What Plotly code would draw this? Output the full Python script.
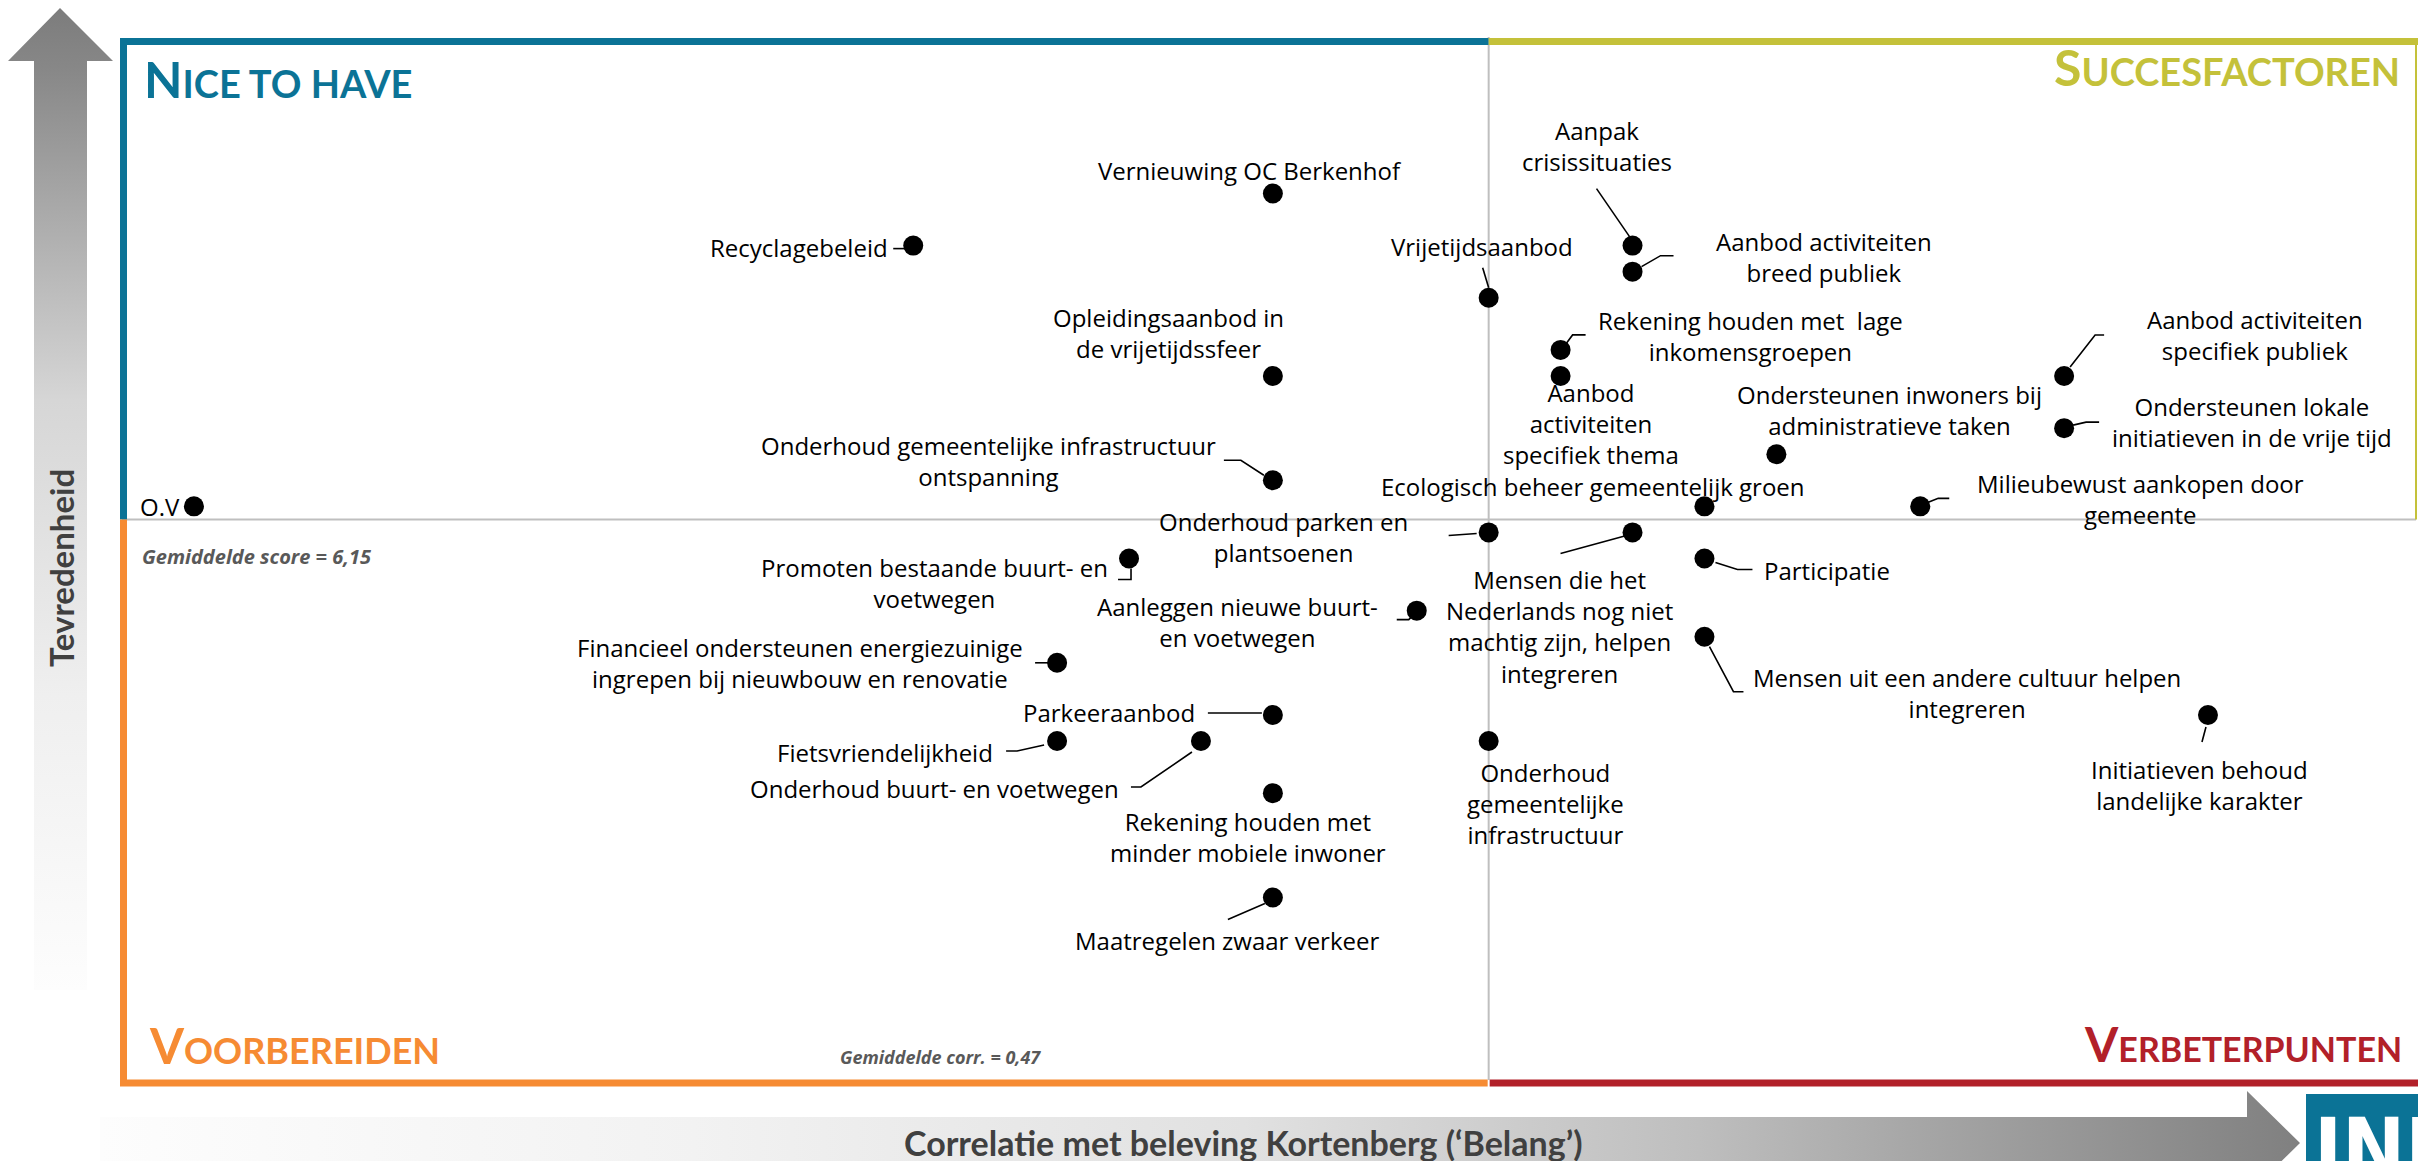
import plotly.graph_objects as go

# ------------------------------------------------------------------ data
items = [
    "O.V",
    "Recyclagebeleid",
    "Vernieuwing OC Berkenhof",
    "Opleidingsaanbod in<br>de vrijetijdssfeer",
    "Onderhoud gemeentelijke infrastructuur<br>ontspanning",
    "Vrijetijdsaanbod",
    "Aanpak<br>crisissituaties",
    "Aanbod activiteiten<br>breed publiek",
    "Rekening houden met\u00a0 lage<br>inkomensgroepen",
    "Aanbod<br>activiteiten<br>specifiek thema",
    "Ondersteunen inwoners bij<br>administratieve taken",
    "Aanbod activiteiten<br>specifiek publiek",
    "Ondersteunen lokale<br>initiatieven in de vrije tijd",
    "Ecologisch beheer gemeentelijk groen",
    "Milieubewust aankopen door<br>gemeente",
    "Onderhoud parken en<br>plantsoenen",
    "Mensen die het<br>Nederlands nog niet<br>machtig zijn, helpen<br>integreren",
    "Participatie",
    "Mensen uit een andere cultuur helpen<br>integreren",
    "Initiatieven behoud<br>landelijke karakter",
    "Onderhoud<br>gemeentelijke<br>infrastructuur",
    "Promoten bestaande buurt- en<br>voetwegen",
    "Aanleggen nieuwe buurt-<br>en voetwegen",
    "Financieel ondersteunen energiezuinige<br>ingrepen bij nieuwbouw en renovatie",
    "Parkeeraanbod",
    "Fietsvriendelijkheid",
    "Onderhoud buurt- en voetwegen",
    "Rekening houden met<br>minder mobiele inwoner",
    "Maatregelen zwaar verkeer",
]
corr = [0.29, 0.39, 0.44, 0.44, 0.44, 0.47, 0.49, 0.49, 0.48, 0.48,
        0.51, 0.55, 0.55, 0.50, 0.53, 0.47, 0.49, 0.50, 0.50, 0.57,
        0.47, 0.42, 0.46, 0.41, 0.44, 0.41, 0.43, 0.44, 0.44]
score = [6.2, 7.2, 7.4, 6.7, 6.3, 7.0, 7.2, 7.1, 6.8, 6.7,
         6.4, 6.7, 6.5, 6.2, 6.2, 6.1, 6.1, 6.0, 5.7, 5.4,
         5.3, 6.0, 5.8, 5.6, 5.4, 5.3, 5.3, 5.1, 4.7]
mean_corr = 0.47
mean_score = 6.15
quadrant_names = ["NICE TO HAVE", "SUCCESFACTOREN", "VOORBEREIDEN", "VERBETERPUNTEN"]
x_title = "Correlatie met beleving Kortenberg (\u2018Belang\u2019)"
y_title = "Tevredenheid"
mean_score_text = "Gemiddelde score = 6,15"
mean_corr_text = "Gemiddelde corr. = 0,47"
logo_text = "IND"

# ------------------------------------------------------------------ label layout (pixels, y up)
label_shift = [(-12, 0), (-23, -2), (-23, 23), (-104, 43), (-284, 19), (-7, 51),
               (-36, 100), (191, 15), (190, 14), (30, -48), (113, 44), (191, 41),
               (188, 6), (-111, 20), (220, 7), (-205, -5), (-73, -94), (58, -12),
               (263, -56), (-8, -70), (57, -62), (-195, -24), (-179, -11),
               (-257, 0), (-76, 2), (-62, -11), (-80, -47), (-25, -44), (-46, -43)]
label_anchor = ["right", "right", "center", "center", "center", "center",
                "center", "center", "center", "center", "center", "center",
                "center", "center", "center", "center", "center", "left",
                "center", "center", "center", "center", "center",
                "center", "right", "right", "right", "center", "center"]
leaders = [None, [(-20, -3), (-8, -3)], None, None, [(-49, 20), (-32, 20), (-9, 5)],
           [(-6, 30), (0, 10)], [(-36, 57), (-3, 9)], [(9, 5), (28, 16), (41, 16)],
           [(6, 7), (12, 15), (25, 15)], None, None, [(6, 9), (31, 41), (40, 41)],
           [(9, 3), (22, 6), (35, 6)], None, [(8, 4), (18, 8), (29, 8)],
           [(-40, -3), (-12, -1)], [(-72, -21), (-6, -3)],
           [(11, -4), (33, -11), (48, -11)], [(5, -10), (29, -55), (39, -55)],
           [(-2, -12), (-6, -27)], None, [(2, -10), (2, -21), (-11, -21)],
           [(-20, -9), (-8, -9), (-3, -4)], [(-22, 0), (-7, 0)], [(-65, 2), (-11, 2)],
           [(-51, -10), (-40, -10), (-13, -4)], [(-70, -46), (-60, -46), (-9, -11)],
           None, [(-45, -22), (-8, -6)]]

W, H = 2418, 1161
PL, PR, PT, PB = 122, 2416, 37, 1080       # plot area in pixels
PX_PER_CORR = 7193
X_MIN = 0.28
Y_RANGE = [4, 8]

BLUE = "#0B7396"
OLIVE = "#C4C13A"
ORANGE = "#F68B33"
RED = "#B22029"
GRID = "#BFBFBF"
LABEL_FONT = dict(family="Open Sans", size=24, color="black")
TITLE_FONT = "Lato"

fig = go.Figure()

# decorative arrows on a full-page pixel axis
fig.add_trace(go.Scatter(
    x=[60, 113, 87, 87, 34, 34, 8, 60], y=[8, 61, 61, 990, 990, 61, 61, 8],
    xaxis="x2", yaxis="y2", mode="lines", fill="toself", line=dict(width=0),
    fillgradient=dict(type="vertical", start=8, stop=990,
                      colorscale=[[0, "#7c7c7c"], [0.06, "#878787"], [0.2, "#a8a8a8"],
                                  [0.4, "#d6d6d6"], [0.7, "#efefef"], [1, "#fdfdfd"]]),
    hoverinfo="skip", showlegend=False))
fig.add_trace(go.Scatter(
    x=[100, 2247, 2247, 2300, 2247, 2247, 100, 100],
    y=[1117, 1117, 1091, 1143, 1195, 1169, 1169, 1117],
    xaxis="x2", yaxis="y2", mode="lines", fill="toself", line=dict(width=0),
    fillgradient=dict(type="horizontal", start=100, stop=2300,
                      colorscale=[[0, "#fdfdfd"], [0.27, "#f2f2f2"], [0.52, "#e1e1e1"],
                                  [0.727, "#bebebe"], [0.818, "#a8a8a8"], [0.977, "#858585"],
                                  [1, "#808080"]]),
    hoverinfo="skip", showlegend=False))

# data points
fig.add_trace(go.Scatter(
    x=corr, y=score, mode="markers",
    marker=dict(size=20, color="black"),
    hoverinfo="skip", showlegend=False))

shapes = []
# mean lines
shapes.append(dict(type="line", xref="x", yref="y domain", x0=mean_corr, x1=mean_corr,
                   y0=0, y1=1, line=dict(color=GRID, width=2), layer="below"))
shapes.append(dict(type="line", xref="x domain", yref="y", x0=0, x1=1,
                   y0=mean_score, y1=mean_score, line=dict(color=GRID, width=2), layer="below"))
# quadrant frame (page pixels)
xm = PL + (mean_corr - X_MIN) * PX_PER_CORR
ym = PB - (mean_score - Y_RANGE[0]) / (Y_RANGE[1] - Y_RANGE[0]) * (PB - PT)
frame = [
    (f"M 123.5,{ym} L 123.5,41.5 L {xm},41.5", BLUE, 7),
    (f"M {xm},41.5 L 2418,41.5", OLIVE, 7),
    (f"M 2416,41.5 L 2416,{ym}", OLIVE, 2),
    (f"M 123.5,{ym} L 123.5,1083 L {xm - 1},1083", ORANGE, 7),
    (f"M {xm + 1},1083 L 2418,1083", RED, 7),
]
for p, c, w in frame:
    shapes.append(dict(type="path", xref="x2", yref="y2", path=p,
                       line=dict(color=c, width=w)))
# logo box
shapes.append(dict(type="rect", xref="x2", yref="y2", x0=2306, x1=2420, y0=1094, y1=1165,
                   fillcolor=BLUE, line=dict(width=0)))
# leader lines
for i, pts in enumerate(leaders):
    if not pts:
        continue
    path = "M " + " L ".join(f"{a},{b}" for a, b in pts)
    shapes.append(dict(type="path", xref="x", yref="y", xsizemode="pixel", ysizemode="pixel",
                       xanchor=corr[i], yanchor=score[i], path=path,
                       line=dict(color="black", width=1.6), layer="below"))

annotations = []
for i, txt in enumerate(items):
    dx, dy = label_shift[i]
    annotations.append(dict(x=corr[i], y=score[i], xref="x", yref="y", text=txt,
                            showarrow=False, xshift=dx, yshift=dy,
                            xanchor=label_anchor[i], yanchor="middle", align="center",
                            font=LABEL_FONT))


def qname(name, size):
    return f"<span style='font-size:{size}px'>{name[0]}</span>{name[1:]}"


qpos = [(142, 79, "left", BLUE, 38, 50), (2402, 67, "right", OLIVE, 38, 50),
        (147, 1045, "left", ORANGE, 36, 49), (2404, 1043, "right", RED, 34, 48)]
for name, (qx, qy, qa, qc, fs, bs) in zip(quadrant_names, qpos):
    annotations.append(dict(x=qx, y=qy, xref="x2", yref="y2", text=qname(name, bs),
                            showarrow=False, xanchor=qa, yanchor="middle",
                            font=dict(family=TITLE_FONT, size=fs, color=qc, weight="bold")))

annotations.append(dict(x=140, y=556, xref="x2", yref="y2", text=f"<b><i>{mean_score_text}</i></b>",
                        showarrow=False, xanchor="left", yanchor="middle",
                        font=dict(family="Open Sans", size=20, color="#595959")))
annotations.append(dict(x=940, y=1057, xref="x2", yref="y2", text=f"<b><i>{mean_corr_text}</i></b>",
                        showarrow=False, xanchor="center", yanchor="middle",
                        font=dict(family="Open Sans", size=18, color="#595959")))
annotations.append(dict(x=1243, y=1142, xref="x2", yref="y2", text=f"<b>{x_title}</b>",
                        showarrow=False, xanchor="center", yanchor="middle",
                        font=dict(family=TITLE_FONT, size=34, color="#404040")))
annotations.append(dict(x=61, y=568, xref="x2", yref="y2", text=f"<b>{y_title}</b>",
                        showarrow=False, xanchor="center", yanchor="middle", textangle=-90,
                        font=dict(family=TITLE_FONT, size=33, color="#404040")))
annotations.append(dict(x=2312, y=1098, xref="x2", yref="y2", text=f"<b>{logo_text}</b>",
                        showarrow=False, xanchor="left", yanchor="top",
                        font=dict(family="DejaVu Sans Condensed", size=84, color="white")))

fig.update_layout(
    width=W, height=H,
    margin=dict(l=0, r=0, t=0, b=0, pad=0),
    paper_bgcolor="white", plot_bgcolor="rgba(0,0,0,0)",
    xaxis=dict(domain=[PL / W, PR / W], range=[X_MIN, X_MIN + (PR - PL) / PX_PER_CORR],
               visible=False, fixedrange=True),
    yaxis=dict(domain=[(H - PB) / H, (H - PT) / H], range=Y_RANGE,
               visible=False, fixedrange=True),
    xaxis2=dict(domain=[0, 1], range=[0, W], anchor="y2", visible=False, fixedrange=True),
    yaxis2=dict(domain=[0, 1], range=[H, 0], anchor="x2", visible=False, fixedrange=True),
    shapes=shapes,
    annotations=annotations,
    showlegend=False,
    hovermode=False,
)

fig.write_html("out.html", config={"displayModeBar": False},
               post_script="document.body.style.margin='0';document.body.style.overflow='hidden';")
